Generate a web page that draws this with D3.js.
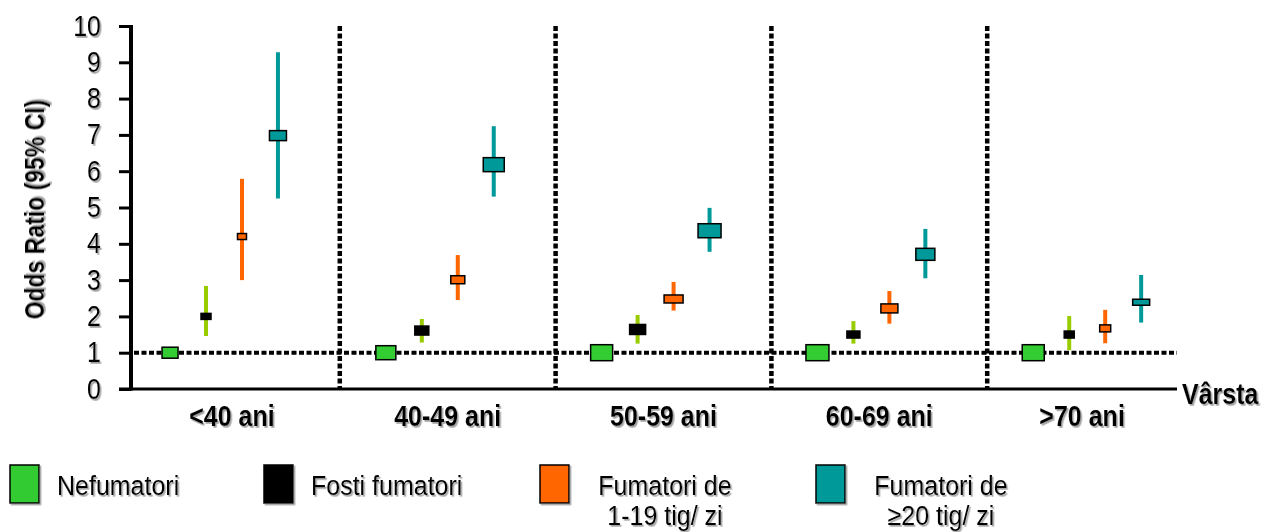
<!DOCTYPE html>
<html>
<head>
<meta charset="utf-8">
<script src="https://cdn.jsdelivr.net/npm/d3@7"></script>
<style>
  body { margin: 0; background: #fff; }
  text { font-family: "Liberation Sans", Arial, sans-serif; fill: #000; }
</style>
</head>
<body>
<div class="chart"></div>
<script>
// data
const groups = ["<40 ani", "40-49 ani", "50-59 ani", "60-69 ani", ">70 ani"];
const seriesKeys = ["nef", "fost", "f119", "f20"];
const seriesLabels = [["Nefumatori"], ["Fosti fumatori"], ["Fumatori de", "1-19 tig/ zi"], ["Fumatori de", "\u226520 tig/ zi"]];
const yTicks = [0, 1, 2, 3, 4, 5, 6, 7, 8, 9, 10];

// odds ratio and 95% CI, one row per age group
const orNef  = [1, 1, 1, 1, 1];
const orFost = [2.0, 1.61, 1.64, 1.50, 1.50];
const loFost = [1.46, 1.28, 1.25, 1.25, 1.07];
const hiFost = [2.84, 1.93, 2.04, 1.87, 2.01];
const orF119 = [4.2, 3.01, 2.48, 2.22, 1.67];
const loF119 = [3.0, 2.45, 2.16, 1.80, 1.26];
const hiF119 = [5.79, 3.69, 2.95, 2.70, 2.18];
const orF20  = [6.98, 6.18, 4.36, 3.71, 2.39];
const loF20  = [5.25, 5.30, 3.78, 3.05, 1.83];
const hiF20  = [9.28, 7.24, 4.99, 4.41, 3.14];

// styles
const fill = { nef: "#33cc33", fost: "#000000", f119: "#ff6600", f20: "#009999" };
const ciColor = { nef: "none", fost: "#99cc00", f119: "#ff6600", f20: "#009999" };
// box sizes [w,h] per group, per series (weights of the estimate)
const boxSize = [
  [[16, 11], [10, 6], [9, 6], [17, 10]],
  [[20, 14], [14, 9], [14, 8], [21, 14]],
  [[22, 16], [16, 10], [19, 8], [23, 14]],
  [[23, 16], [13, 7], [17, 9], [19, 12]],
  [[22, 16], [10, 7], [11, 7], [17, 6]]
];

const rows = [];
groups.forEach((g, i) => {
  rows.push({ g, gi: i, key: "nef", si: 0, or: orNef[i], lo: null, hi: null });
  rows.push({ g, gi: i, key: "fost", si: 1, or: orFost[i], lo: loFost[i], hi: hiFost[i] });
  rows.push({ g, gi: i, key: "f119", si: 2, or: orF119[i], lo: loF119[i], hi: hiF119[i] });
  rows.push({ g, gi: i, key: "f20", si: 3, or: orF20[i], lo: loF20[i], hi: hiF20[i] });
});

const W = 1269, H = 532;
const svg = d3.select(".chart").append("svg")
  .attr("width", W).attr("height", H);

const defs = svg.append("defs");
defs.append("filter").attr("id", "shadow")
  .attr("x", "-10%").attr("y", "-10%").attr("width", "130%").attr("height", "140%")
  .append("feDropShadow")
  .attr("dx", 1.5).attr("dy", 1.5).attr("stdDeviation", 0.6)
  .attr("flood-color", "#999").attr("flood-opacity", 0.9);

const axisLeftX = 131, axisEnd = 1177;
const sy = 1.2; // text in the picture is drawn a bit taller than wide

const y = d3.scaleLinear().domain([0, 10]).range([389, 26]);
const x0 = d3.scaleBand().domain(groups).range([124, 1203]).paddingInner(0);
const x1 = d3.scalePoint().domain(seriesKeys).range([0, 200]).padding(1.28);

// y axis
const yAxis = d3.axisLeft(y).tickValues(yTicks).tickSize(12).tickPadding(18);
const gy = svg.append("g").attr("transform", `translate(${axisLeftX},0)`).call(yAxis);
gy.select(".domain").remove();
gy.selectAll(".tick line").attr("stroke", "#000").attr("stroke-width", 3);
gy.selectAll(".tick text")
  .style("font-size", "25px")
  .attr("transform", `scale(1,${sy})`)
  .attr("dy", "0.3em")
  .attr("filter", "url(#shadow)");
gy.append("line").attr("x1", 0).attr("x2", 0)
  .attr("y1", y(10) - 1).attr("y2", y(0) + 1.5)
  .attr("stroke", "#000").attr("stroke-width", 4);

// x axis baseline
svg.append("line")
  .attr("x1", 119).attr("x2", axisEnd)
  .attr("y1", y(0)).attr("y2", y(0))
  .attr("stroke", "#000").attr("stroke-width", 3);

// reference line at OR = 1
svg.append("line")
  .attr("x1", axisLeftX + 3).attr("x2", axisEnd)
  .attr("y1", y(1)).attr("y2", y(1))
  .attr("stroke", "#000").attr("stroke-width", 4)
  .attr("stroke-dasharray", "5,2.5");

// group dividers
svg.selectAll(".divider")
  .data(groups.slice(1))
  .join("line")
  .attr("class", "divider")
  .attr("x1", d => x0(d)).attr("x2", d => x0(d))
  .attr("y1", y(10)).attr("y2", y(0))
  .attr("stroke", "#000").attr("stroke-width", 4.5)
  .attr("stroke-dasharray", "5,2.5");

// group labels
svg.selectAll(".glabel")
  .data(groups)
  .join("text")
  .attr("class", "glabel")
  .attr("transform", d => {
    const a = x0(d), b = Math.min(a + x0.bandwidth(), axisEnd);
    return `translate(${(a + b) / 2},426) scale(1,${sy})`;
  })
  .attr("text-anchor", "middle")
  .style("font-size", "25px").style("font-weight", "bold")
  .attr("filter", "url(#shadow)")
  .text(d => d);

svg.append("text")
  .attr("transform", `translate(1182,404) scale(1,${sy})`)
  .style("font-size", "25px").style("font-weight", "bold")
  .attr("filter", "url(#shadow)")
  .text("Vârsta");

// y axis title
svg.append("text")
  .attr("transform", `translate(44,${(y(0) + y(10)) / 2 + 2}) rotate(-90) scale(1,${sy})`)
  .attr("text-anchor", "middle")
  .style("font-size", "23px").style("font-weight", "bold")
  .attr("filter", "url(#shadow)")
  .text("Odds Ratio (95% CI)");

const cx = d => x0(d.g) + x1(d.key);

// confidence intervals
svg.selectAll(".ci")
  .data(rows.filter(d => d.lo != null))
  .join("line")
  .attr("class", "ci")
  .attr("x1", cx).attr("x2", cx)
  .attr("y1", d => y(d.hi)).attr("y2", d => y(d.lo))
  .attr("stroke", d => ciColor[d.key]).attr("stroke-width", 4);

// point estimates
svg.selectAll(".box")
  .data(rows)
  .join("rect")
  .attr("class", "box")
  .attr("x", d => cx(d) - boxSize[d.gi][d.si][0] / 2)
  .attr("y", d => y(d.or) - boxSize[d.gi][d.si][1] / 2)
  .attr("width", d => boxSize[d.gi][d.si][0])
  .attr("height", d => boxSize[d.gi][d.si][1])
  .attr("fill", d => fill[d.key])
  .attr("stroke", "#000").attr("stroke-width", 1.5);

// legend
const legX = [10, 264, 540, 816];
const leg = svg.selectAll(".leg")
  .data(seriesKeys)
  .join("g")
  .attr("class", "leg")
  .attr("transform", (d, i) => `translate(${legX[i]},465)`);
leg.append("rect")
  .attr("width", 29).attr("height", 38)
  .attr("fill", d => fill[d])
  .attr("stroke", "#000").attr("stroke-width", 1.5)
  .attr("filter", "url(#shadow)");
leg.each(function (d, i) {
  const lines = seriesLabels[i];
  lines.forEach((s, k) => {
    const single = lines.length === 1;
    d3.select(this).append("text")
      .attr("transform", `translate(${single ? 47 : 125},${30 + k * 30}) scale(1,1.12)`)
      .attr("text-anchor", single ? "start" : "middle")
      .style("font-size", "25px")
      .attr("filter", "url(#shadow)")
      .text(s);
  });
});
</script>
</body>
</html>
